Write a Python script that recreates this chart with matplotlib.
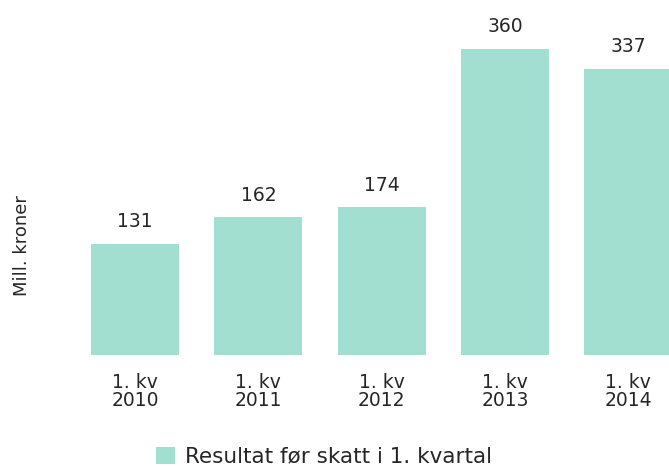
import matplotlib.pyplot as plt
import numpy as np

categories = ['1. kv\n2010', '1. kv\n2011', '1. kv\n2012', '1. kv\n2013', '1. kv\n2014']
values = [131, 162, 174, 360, 337]
series_name = 'Resultat før skatt i 1. kvartal'

BAR_COLOR = '#a3dfd0'
TEXT_COLOR = '#262626'

fig = plt.figure(figsize=(6.69, 4.68), dpi=100)
ax = fig.add_axes([91 / 669, 113 / 468, 578 / 669, 355 / 468])

x = np.arange(len(values))
bars = ax.bar(x, values, width=0.714, color=BAR_COLOR, label=series_name)

for xi, v in zip(x, values):
    ax.annotate(str(v), (xi, v), xytext=(0, 9), textcoords='offset points',
                ha='center', va='bottom', fontsize=13.5, color=TEXT_COLOR)

ax.set_xlim(-0.357, 4.33)
ax.set_ylim(0, 417.6)
ax.set_xticks(x)
ax.set_xticklabels(categories, fontsize=13.5, color=TEXT_COLOR, linespacing=0.95)
ax.tick_params(axis='x', length=0, pad=13)
ax.set_yticks([])
for s in ax.spines.values():
    s.set_visible(False)

fig.text(22 / 669, 1 - 246 / 468, 'Mill. kroner', rotation=90, ha='center', va='center',
         fontsize=13, color=TEXT_COLOR)

fig.legend(handles=[bars], labels=[series_name], loc='center', bbox_to_anchor=(0.485, 0.024),
           frameon=False, fontsize=15.5, handlelength=0.85, handleheight=0.85,
           handletextpad=0.5, labelcolor=TEXT_COLOR)

fig.savefig('out.png', dpi=100)
